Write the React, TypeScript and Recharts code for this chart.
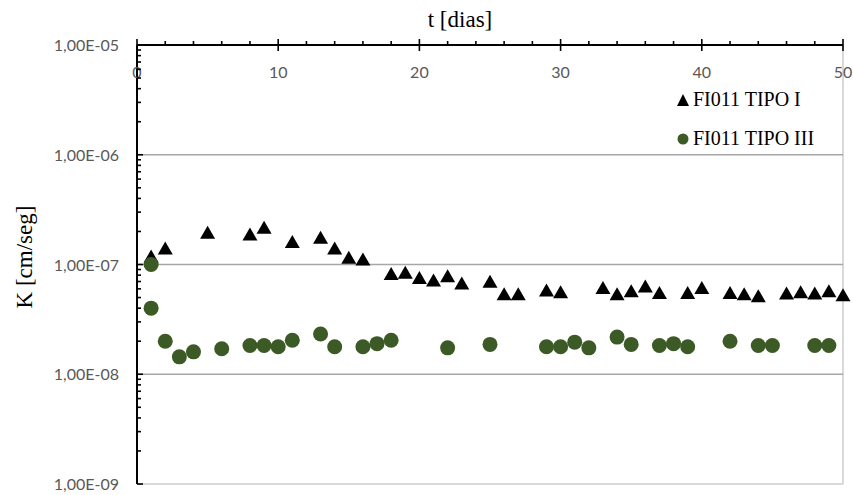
import { ScatterChart, Scatter, XAxis, YAxis, ReferenceLine } from 'recharts'

// days (t) and permeability (K)
const tipoIDays = [1, 2, 5, 8, 9, 11, 13, 14, 15, 16, 18, 19, 20, 21, 22, 23, 25, 26, 27, 29, 30, 33, 34, 35, 36, 37, 39, 40, 42, 43, 44, 46, 47, 48, 49, 50]
const tipoIK = [
  1.18e-7, 1.4e-7, 1.95e-7, 1.88e-7, 2.16e-7, 1.6e-7, 1.75e-7, 1.4e-7, 1.15e-7, 1.11e-7,
  8.2e-8, 8.4e-8, 7.55e-8, 7.15e-8, 7.8e-8, 6.7e-8, 6.95e-8, 5.35e-8, 5.35e-8, 5.8e-8,
  5.6e-8, 6.1e-8, 5.35e-8, 5.7e-8, 6.3e-8, 5.5e-8, 5.5e-8, 6.1e-8, 5.5e-8, 5.35e-8,
  5.15e-8, 5.45e-8, 5.6e-8, 5.45e-8, 5.7e-8, 5.25e-8,
]

const tipoIIIDays = [1, 1, 2, 3, 4, 6, 8, 9, 10, 11, 13, 14, 16, 17, 18, 22, 25, 29, 30, 31, 32, 34, 35, 37, 38, 39, 42, 44, 45, 48, 49]
const tipoIIIK = [
  1.0e-7, 4.0e-8, 2.0e-8, 1.44e-8, 1.6e-8, 1.71e-8, 1.83e-8, 1.83e-8, 1.78e-8, 2.04e-8,
  2.33e-8, 1.78e-8, 1.78e-8, 1.9e-8, 2.04e-8, 1.74e-8, 1.87e-8, 1.78e-8, 1.78e-8, 1.96e-8,
  1.74e-8, 2.18e-8, 1.87e-8, 1.83e-8, 1.9e-8, 1.78e-8, 2.0e-8, 1.83e-8, 1.83e-8, 1.83e-8,
  1.83e-8,
]

const dayTicks = [0, 2, 4, 6, 8, 10, 12, 14, 16, 18, 20, 22, 24, 26, 28, 30, 32, 34, 36, 38, 40, 42, 44, 46, 48, 50]
const dayLabels = [0, 10, 20, 30, 40, 50]

const kMajors = [1e-9, 1e-8, 1e-7, 1e-6, 1e-5]
const kLabels = ['1,00E-09', '1,00E-08', '1,00E-07', '1,00E-06', '1,00E-05']
const minorMults = [2, 3, 4, 5, 6, 7, 8, 9]
const kTicks = [...kMajors, ...kMajors.slice(0, 4).flatMap((d) => minorMults.map((m) => m * d))]

const tipoIData = tipoIDays.map((t, i) => ({ t, k: tipoIK[i] }))
const tipoIIIData = tipoIIIDays.map((t, i) => ({ t, k: tipoIIIK[i] }))

const GREEN = '#3b5a25'
const TICK_FONT = 'Lato, "Open Sans", sans-serif'
const SERIF = '"Liberation Serif", "Times New Roman", serif'

const XTick = (props: any) => {
  const { x, y, payload } = props
  const major = dayLabels.includes(payload.value)
  return (
    <g>
      <line x1={x} x2={x} y1={major ? y - 6 : y - 4} y2={major ? y + 6 : y} stroke="#000" strokeWidth={1.6} />
      {major && (
        <text x={x} y={y + 33} textAnchor="middle" fontFamily={TICK_FONT} fontSize={16} fill="#595959">
          {payload.value}
        </text>
      )}
    </g>
  )
}

const YTick = (props: any) => {
  const { x, y, payload } = props
  const idx = kMajors.indexOf(payload.value)
  const major = idx >= 0
  return (
    <g>
      <line x1={x} x2={x + (major ? 6 : 4)} y1={y} y2={y} stroke="#000" strokeWidth={1.6} />
      {major && (
        <text x={x - 18} y={y + 6} textAnchor="end" fontFamily={TICK_FONT} fontSize={16} fill="#595959">
          {kLabels[idx]}
        </text>
      )}
    </g>
  )
}

const Triangle = (props: any) => {
  const { cx, cy } = props
  return <polygon points={`${cx},${cy - 7} ${cx - 7.5},${cy + 6} ${cx + 7.5},${cy + 6}`} fill="#000" />
}

const Dot = (props: any) => {
  const { cx, cy } = props
  return <circle cx={cx} cy={cy} r={7.5} fill={GREEN} />
}

export default function App() {
  return (
    <div style={{ position: 'absolute', left: 0, top: 0, width: 853, height: 495, background: '#fff' }}>
      <ScatterChart width={853} height={495} margin={{ top: 0, right: 10, bottom: 11, left: 0 }}>
        <XAxis
          type="number"
          dataKey="t"
          orientation="top"
          domain={[0, 50]}
          ticks={dayTicks}
          interval={0}
          height={45}
          tickSize={0}
          tickMargin={0}
          tickLine={false}
          tick={<XTick />}
          axisLine={{ stroke: '#000', strokeWidth: 2 }}
          label={{
            content: () => (
              <text x={460} y={27} textAnchor="middle" fontFamily={SERIF} fontSize={23} fill="#000">
                t [dias]
              </text>
            ),
          }}
        />
        <YAxis
          type="number"
          dataKey="k"
          scale="log"
          domain={[1e-9, 1e-5]}
          ticks={kTicks}
          interval={0}
          width={137}
          tickSize={0}
          tickMargin={0}
          tickLine={false}
          tick={<YTick />}
          axisLine={{ stroke: '#000', strokeWidth: 2 }}
          label={{
            content: () => (
              <text x={32} y={257} transform="rotate(-90 32 257)" textAnchor="middle" fontFamily={SERIF} fontSize={23} fill="#000">
                K [cm/seg]
              </text>
            ),
          }}
        />
        <ReferenceLine y={1e-9} stroke="#d9d9d9" strokeWidth={2} />
        <ReferenceLine x={50} stroke="#d9d9d9" strokeWidth={2} />
        {kMajors.slice(1, 4).map((v) => (
          <ReferenceLine key={v} y={v} stroke="#a6a6a6" strokeWidth={1.3} />
        ))}
        <Scatter name="FI011 TIPO I" data={tipoIData} shape={<Triangle />} isAnimationActive={false} />
        <Scatter name="FI011 TIPO III" data={tipoIIIData} shape={<Dot />} isAnimationActive={false} />
      </ScatterChart>
      <div style={{ position: 'absolute', left: 674, top: 80, fontFamily: SERIF, fontSize: 20, color: '#000', lineHeight: '39px' }}>
        <div style={{ display: 'flex', alignItems: 'center' }}>
          <svg width={18} height={14} style={{ marginRight: 1 }}>
            <polygon points="9,1 3,13 15,13" fill="#000" />
          </svg>
          FI011 TIPO I
        </div>
        <div style={{ display: 'flex', alignItems: 'center' }}>
          <svg width={18} height={14} style={{ marginRight: 1 }}>
            <circle cx={9} cy={7} r={5.5} fill={GREEN} />
          </svg>
          FI011 TIPO III
        </div>
      </div>
    </div>
  )
}
